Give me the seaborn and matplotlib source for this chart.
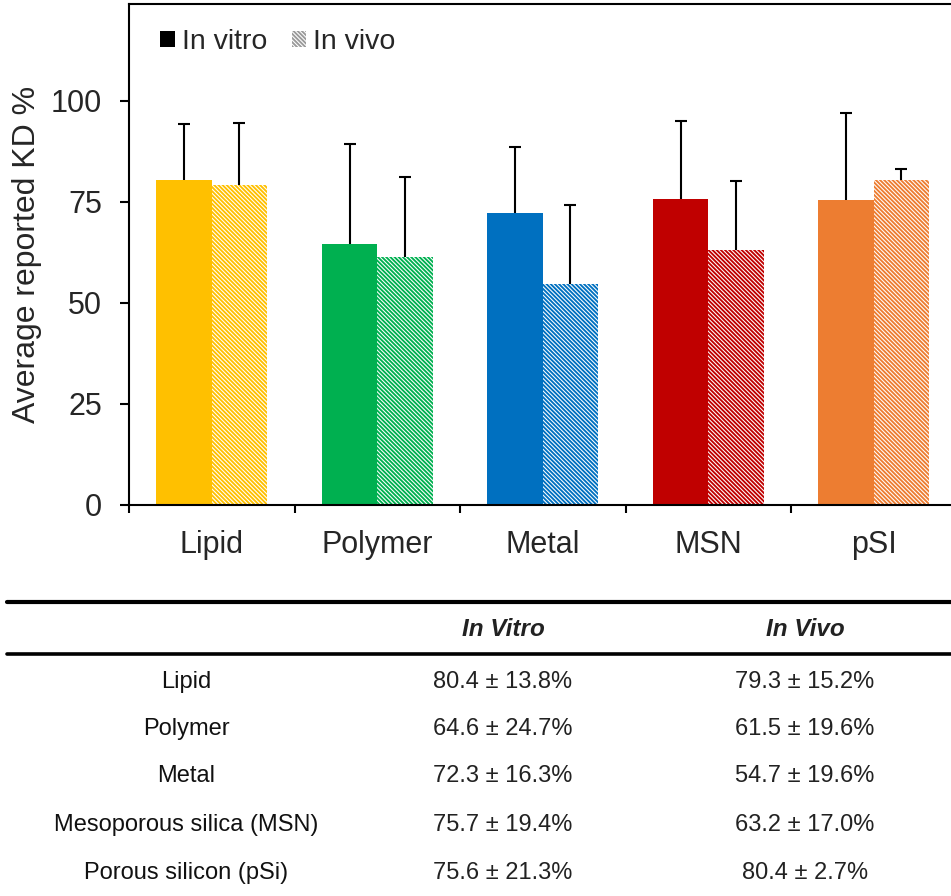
import pandas as pd
import matplotlib.pyplot as plt
from matplotlib.patches import Patch
from matplotlib.lines import Line2D
import seaborn as sns

# ── DATA ──────────────────────────────────────────────────────────────────────
materials   = ["Lipid", "Polymer", "Metal", "MSN", "pSI"]
table_names = ["Lipid", "Polymer", "Metal", "Mesoporous silica (MSN)", "Porous silicon (pSi)"]
conditions  = ["In vitro", "In vivo"]
vitro_mean  = [80.4, 64.6, 72.3, 75.7, 75.6]
vitro_sd    = [13.8, 24.7, 16.3, 19.4, 21.3]
vivo_mean   = [79.3, 61.5, 54.7, 63.2, 80.4]
vivo_sd     = [15.2, 19.6, 19.6, 17.0, 2.7]
colors      = ["#FFC000", "#00B050", "#0070C0", "#C00000", "#ED7D31"]
yticks      = [0, 25, 50, 75, 100]

HATCH = "\\" * 8

# ── STYLE ─────────────────────────────────────────────────────────────────────
sns.set_theme(style="ticks")
plt.rcParams["font.family"] = ["Liberation Sans", "DejaVu Sans"]
plt.rcParams["hatch.linewidth"] = 1.35

df = pd.DataFrame({
    "material":  materials * 2,
    "condition": [conditions[0]] * 5 + [conditions[1]] * 5,
    "mean":      vitro_mean + vivo_mean,
    "sd":        vitro_sd + vivo_sd,
})

W, H = 951, 896
fig = plt.figure(figsize=(W / 100, H / 100), dpi=100)
ax = fig.add_axes([129 / W, 1 - 505 / H, 827.5 / W, 501 / H])

sns.barplot(data=df, x="material", y="mean", hue="condition", hue_order=conditions,
            errorbar=None, width=0.67, legend=False, saturation=1, ax=ax)

# couleurs par matériau, hachures pour in vivo, barres d'erreur vers le haut seulement
bar_containers = list(ax.containers[:2])
for j, cont in enumerate(bar_containers):
    sub = df[df["condition"] == conditions[j]]
    for bar, c, m, s in zip(cont.patches, colors, sub["mean"], sub["sd"]):
        if j == 0:
            bar.set_facecolor(c)
            bar.set_edgecolor("none")
        else:
            bar.set_facecolor("white")
            bar.set_edgecolor(c)
            bar.set_hatch(HATCH)
        bar.set_linewidth(0)
        xc = bar.get_x() + bar.get_width() / 2
        eb = ax.errorbar(xc, m, yerr=[[0], [s]], fmt="none", ecolor="black",
                         elinewidth=1.5, capsize=4.5, capthick=1.5, zorder=5)
        eb[1][0].set_visible(False)   # pas de cap en bas

ax.set_xlim(-0.5, 4.5)
ax.set_ylim(0, 124)
ax.set_yticks(yticks)
ax.set_xticks(range(len(materials)))
ax.set_xticklabels(materials)
ax.set_xticks([i - 0.5 for i in range(len(materials) + 1)], minor=True)
ax.tick_params(axis="x", which="major", length=0, pad=18, labelsize=22)
ax.tick_params(axis="x", which="minor", length=6, width=1.5, direction="out", color="black")
ax.tick_params(axis="y", which="major", length=6.5, width=1.5, direction="out",
               pad=13, labelsize=22, color="black")
ax.tick_params(axis="y", which="minor", length=0)
for side in ["left", "bottom", "top"]:
    ax.spines[side].set_linewidth(1.5)
    ax.spines[side].set_color("black")
ax.spines["right"].set_visible(False)
ax.set_xlabel("")
ax.set_ylabel("Average reported KD %", fontsize=23, labelpad=6)

handles = [Patch(facecolor="black", edgecolor="none"),
           Patch(facecolor="white", edgecolor="#9a9a9a", hatch=HATCH, linewidth=0)]
ax.legend(handles, conditions, ncol=2, loc="center left",
          bbox_to_anchor=(160 / W, 1 - 42 / H), bbox_transform=fig.transFigure,
          frameon=False, fontsize=20.5, handlelength=0.52, handleheight=0.52,
          handletextpad=0.25, columnspacing=0.85, borderpad=0, borderaxespad=0)

# ── TABLEAU ───────────────────────────────────────────────────────────────────
fig.add_artist(Line2D([7 / W, 1], [1 - 602 / H] * 2, transform=fig.transFigure,
                      color="black", lw=3))
fig.add_artist(Line2D([7 / W, 1], [1 - 654 / H] * 2, transform=fig.transFigure,
                      color="black", lw=2.6))

col_x = [186 / W, 503 / W, 805 / W]
fig.text(col_x[1], 1 - 630 / H, "In Vitro", ha="center", va="center",
         fontsize=17.5, fontweight="bold", fontstyle="italic", color="#222222")
fig.text(col_x[2], 1 - 630 / H, "In Vivo", ha="center", va="center",
         fontsize=17.5, fontweight="bold", fontstyle="italic", color="#222222")

row_y = [682, 729, 776, 825, 873]
for name, vm, vs, wm, ws, ry in zip(table_names, vitro_mean, vitro_sd,
                                     vivo_mean, vivo_sd, row_y):
    fig.text(col_x[0], 1 - ry / H, name, ha="center", va="center",
             fontsize=17, color="#111111")
    fig.text(col_x[1], 1 - ry / H, f"{vm:.1f} ± {vs:.1f}%", ha="center",
             va="center", fontsize=17, color="#222222")
    fig.text(col_x[2], 1 - ry / H, f"{wm:.1f} ± {ws:.1f}%", ha="center",
             va="center", fontsize=17, color="#222222")

fig.savefig("out.png", dpi=100)
